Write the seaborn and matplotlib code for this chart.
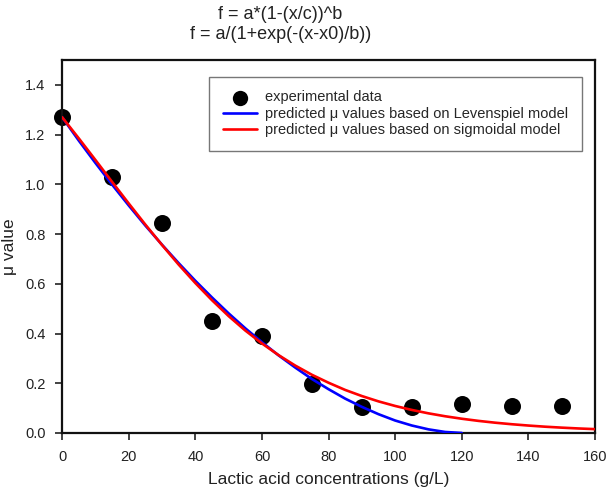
import matplotlib
matplotlib.use("Agg")
import matplotlib.pyplot as plt
import seaborn as sns

# experimental data
conc = [0, 15, 30, 45, 60, 75, 90, 105, 120, 135, 150]
mu = [1.27, 1.03, 0.845, 0.45, 0.39, 0.195, 0.105, 0.105, 0.115, 0.11, 0.11]

# predicted curves, every 5 g/L
lev_x = [0, 5, 10, 15, 20, 25, 30, 35, 40, 45, 50, 55, 60, 65, 70, 75, 80, 85,
         90, 95, 100, 105, 110, 115, 120]
lev_y = [1.27, 1.176, 1.086, 0.999, 0.915, 0.834, 0.757, 0.683, 0.612, 0.545,
         0.481, 0.421, 0.365, 0.312, 0.263, 0.217, 0.176, 0.138, 0.105, 0.0755,
         0.050, 0.030, 0.0145, 0.004, 0.0]

sig_x = [0, 5, 10, 15, 20, 25, 30, 35, 40, 45, 50, 55, 60, 65, 70, 75, 80, 85,
         90, 95, 100, 105, 110, 115, 120, 125, 130, 135, 140, 145, 150, 155, 160]
sig_y = [1.270, 1.185, 1.098, 1.010, 0.923, 0.838, 0.756, 0.677, 0.603, 0.534,
         0.470, 0.412, 0.360, 0.313, 0.271, 0.234, 0.202, 0.173, 0.1485, 0.127,
         0.1086, 0.0926, 0.0789, 0.0672, 0.0572, 0.0486, 0.0413, 0.0351, 0.0298,
         0.0252, 0.0214, 0.0181, 0.0154]

sns.set_style("white")
plt.rcParams['font.family'] = ['Liberation Sans', 'DejaVu Sans']

fig = plt.figure(figsize=(6.09, 4.92), dpi=100)
ax = fig.add_axes([0.102, 0.120, 0.875, 0.758])

sns.scatterplot(x=conc, y=mu, ax=ax, s=150, color="black", edgecolor="black",
                linewidth=0, zorder=2, clip_on=False, label="experimental data")
sns.lineplot(x=lev_x, y=lev_y, ax=ax, color="#0000ff", linewidth=1.9, zorder=3,
             label="predicted \u03bc values based on Levenspiel model")
sns.lineplot(x=sig_x, y=sig_y, ax=ax, color="#ff0000", linewidth=1.9, zorder=4,
             label="predicted \u03bc values based on sigmoidal model")

ax.set_xlim(0, 160)
ax.set_ylim(0, 1.5)
ax.set_xticks(range(0, 161, 20))
ax.set_yticks([0.0, 0.2, 0.4, 0.6, 0.8, 1.0, 1.2, 1.4])
ax.set_yticklabels(["0.0", "0.2", "0.4", "0.6", "0.8", "1.0", "1.2", "1.4"])
ax.tick_params(axis="both", which="major", direction="out", length=5, width=1.2,
               labelsize=10.5, pad=7, color="#222222", labelcolor="#222222",
               bottom=True, left=True, top=False, right=False)
for sp in ax.spines.values():
    sp.set_color("#111111")
    sp.set_linewidth(1.6)

ax.set_xlabel("Lactic acid concentrations (g/L)", fontsize=12.5,
              color="#222222", labelpad=6)
ax.set_ylabel("\u03bc value", fontsize=12.5, color="#222222", labelpad=6)

leg = ax.legend(loc="upper right", bbox_to_anchor=(0.99, 0.975), fontsize=10.5,
                frameon=True, fancybox=False, edgecolor="#555555",
                handlelength=2.3, handletextpad=0.6, borderpad=0.95,
                labelspacing=0.15, markerscale=0.9)
leg.get_frame().set_linewidth(1.0)

fig.text(0.46, 0.988, "f = a*(1-(x/c))^b", ha="center", va="top", fontsize=13,
         color="#222222")
fig.text(0.46, 0.947, "f = a/(1+exp(-(x-x0)/b))", ha="center", va="top",
         fontsize=13, color="#222222")

fig.savefig("out.png", dpi=100)
